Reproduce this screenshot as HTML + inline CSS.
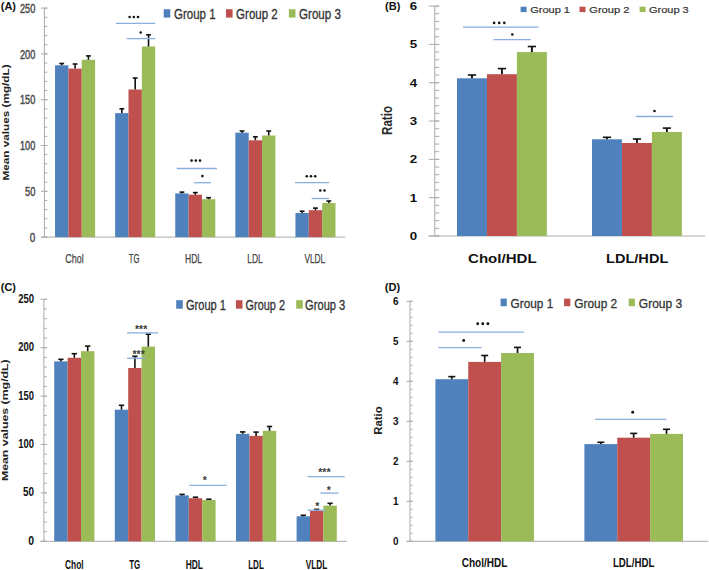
<!DOCTYPE html>
<html><head><meta charset="utf-8"><style>
html,body{margin:0;padding:0;background:#fff;}
svg{display:block;}
</style></head><body>
<svg width="709" height="570" viewBox="0 0 709 570">
<rect width="709" height="570" fill="#fff"/>
<line x1="44.40" y1="237.10" x2="47.40" y2="237.10" stroke="#ABABAB" stroke-width="1"/>
<line x1="44.40" y1="227.94" x2="47.40" y2="227.94" stroke="#ABABAB" stroke-width="1"/>
<line x1="44.40" y1="218.78" x2="47.40" y2="218.78" stroke="#ABABAB" stroke-width="1"/>
<line x1="44.40" y1="209.62" x2="47.40" y2="209.62" stroke="#ABABAB" stroke-width="1"/>
<line x1="44.40" y1="200.46" x2="47.40" y2="200.46" stroke="#ABABAB" stroke-width="1"/>
<line x1="44.40" y1="191.30" x2="47.40" y2="191.30" stroke="#ABABAB" stroke-width="1"/>
<line x1="44.40" y1="182.14" x2="47.40" y2="182.14" stroke="#ABABAB" stroke-width="1"/>
<line x1="44.40" y1="172.98" x2="47.40" y2="172.98" stroke="#ABABAB" stroke-width="1"/>
<line x1="44.40" y1="163.82" x2="47.40" y2="163.82" stroke="#ABABAB" stroke-width="1"/>
<line x1="44.40" y1="154.66" x2="47.40" y2="154.66" stroke="#ABABAB" stroke-width="1"/>
<line x1="44.40" y1="145.50" x2="47.40" y2="145.50" stroke="#ABABAB" stroke-width="1"/>
<line x1="44.40" y1="136.34" x2="47.40" y2="136.34" stroke="#ABABAB" stroke-width="1"/>
<line x1="44.40" y1="127.18" x2="47.40" y2="127.18" stroke="#ABABAB" stroke-width="1"/>
<line x1="44.40" y1="118.02" x2="47.40" y2="118.02" stroke="#ABABAB" stroke-width="1"/>
<line x1="44.40" y1="108.86" x2="47.40" y2="108.86" stroke="#ABABAB" stroke-width="1"/>
<line x1="44.40" y1="99.70" x2="47.40" y2="99.70" stroke="#ABABAB" stroke-width="1"/>
<line x1="44.40" y1="90.54" x2="47.40" y2="90.54" stroke="#ABABAB" stroke-width="1"/>
<line x1="44.40" y1="81.38" x2="47.40" y2="81.38" stroke="#ABABAB" stroke-width="1"/>
<line x1="44.40" y1="72.22" x2="47.40" y2="72.22" stroke="#ABABAB" stroke-width="1"/>
<line x1="44.40" y1="63.06" x2="47.40" y2="63.06" stroke="#ABABAB" stroke-width="1"/>
<line x1="44.40" y1="53.90" x2="47.40" y2="53.90" stroke="#ABABAB" stroke-width="1"/>
<line x1="44.40" y1="44.74" x2="47.40" y2="44.74" stroke="#ABABAB" stroke-width="1"/>
<line x1="44.40" y1="35.58" x2="47.40" y2="35.58" stroke="#ABABAB" stroke-width="1"/>
<line x1="44.40" y1="26.42" x2="47.40" y2="26.42" stroke="#ABABAB" stroke-width="1"/>
<line x1="44.40" y1="17.26" x2="47.40" y2="17.26" stroke="#ABABAB" stroke-width="1"/>
<line x1="44.40" y1="8.10" x2="47.40" y2="8.10" stroke="#ABABAB" stroke-width="1"/>
<line x1="41.00" y1="237.10" x2="47.40" y2="237.10" stroke="#ABABAB" stroke-width="1"/>
<line x1="41.00" y1="191.30" x2="47.40" y2="191.30" stroke="#ABABAB" stroke-width="1"/>
<line x1="41.00" y1="145.50" x2="47.40" y2="145.50" stroke="#ABABAB" stroke-width="1"/>
<line x1="41.00" y1="99.70" x2="47.40" y2="99.70" stroke="#ABABAB" stroke-width="1"/>
<line x1="41.00" y1="53.90" x2="47.40" y2="53.90" stroke="#ABABAB" stroke-width="1"/>
<line x1="41.00" y1="8.10" x2="47.40" y2="8.10" stroke="#ABABAB" stroke-width="1"/>
<line x1="44.40" y1="8.10" x2="44.40" y2="237.10" stroke="#ABABAB" stroke-width="1.0"/>
<line x1="41.00" y1="237.10" x2="345.30" y2="237.10" stroke="#ABABAB" stroke-width="1.0"/>
<text x="35.30" y="241.70" font-family="Liberation Sans" font-size="12.5" font-weight="normal" fill="#4a4a4a" text-anchor="end" textLength="5.50" lengthAdjust="spacingAndGlyphs" stroke="#4a4a4a" stroke-width="0.45">0</text>
<text x="35.30" y="195.90" font-family="Liberation Sans" font-size="12.5" font-weight="normal" fill="#4a4a4a" text-anchor="end" textLength="10.30" lengthAdjust="spacingAndGlyphs" stroke="#4a4a4a" stroke-width="0.45">50</text>
<text x="35.30" y="150.10" font-family="Liberation Sans" font-size="12.5" font-weight="normal" fill="#4a4a4a" text-anchor="end" textLength="15.30" lengthAdjust="spacingAndGlyphs" stroke="#4a4a4a" stroke-width="0.45">100</text>
<text x="35.30" y="104.30" font-family="Liberation Sans" font-size="12.5" font-weight="normal" fill="#4a4a4a" text-anchor="end" textLength="15.30" lengthAdjust="spacingAndGlyphs" stroke="#4a4a4a" stroke-width="0.45">150</text>
<text x="35.30" y="58.50" font-family="Liberation Sans" font-size="12.5" font-weight="normal" fill="#4a4a4a" text-anchor="end" textLength="15.30" lengthAdjust="spacingAndGlyphs" stroke="#4a4a4a" stroke-width="0.45">200</text>
<text x="35.30" y="12.70" font-family="Liberation Sans" font-size="12.5" font-weight="normal" fill="#4a4a4a" text-anchor="end" textLength="15.30" lengthAdjust="spacingAndGlyphs" stroke="#4a4a4a" stroke-width="0.45">250</text>
<text x="9.50" y="122.45" font-family="Liberation Sans" font-size="9.2" font-weight="bold" fill="#222" text-anchor="middle" textLength="116.00" lengthAdjust="spacingAndGlyphs" transform="rotate(-90 9.50 122.45)">Mean values (mg/dL)</text>
<text x="0.80" y="10.20" font-family="Liberation Sans" font-size="11" font-weight="bold" fill="#111" text-anchor="start" textLength="15.20" lengthAdjust="spacingAndGlyphs">(A)</text>
<rect x="55.05" y="65.30" width="13.35" height="171.80" fill="#4F81BD"/>
<rect x="68.40" y="68.60" width="13.35" height="168.50" fill="#C0504D"/>
<rect x="81.75" y="59.75" width="13.35" height="177.35" fill="#9BBB59"/>
<rect x="115.15" y="113.10" width="13.35" height="124.00" fill="#4F81BD"/>
<rect x="128.50" y="89.50" width="13.35" height="147.60" fill="#C0504D"/>
<rect x="141.85" y="46.50" width="13.35" height="190.60" fill="#9BBB59"/>
<rect x="175.25" y="193.40" width="13.35" height="43.70" fill="#4F81BD"/>
<rect x="188.60" y="194.70" width="13.35" height="42.40" fill="#C0504D"/>
<rect x="201.95" y="199.20" width="13.35" height="37.90" fill="#9BBB59"/>
<rect x="235.35" y="132.70" width="13.35" height="104.40" fill="#4F81BD"/>
<rect x="248.70" y="140.30" width="13.35" height="96.80" fill="#C0504D"/>
<rect x="262.05" y="135.50" width="13.35" height="101.60" fill="#9BBB59"/>
<rect x="295.45" y="213.00" width="13.35" height="24.10" fill="#4F81BD"/>
<rect x="308.80" y="210.20" width="13.35" height="26.90" fill="#C0504D"/>
<rect x="322.15" y="203.00" width="13.35" height="34.10" fill="#9BBB59"/>
<line x1="61.72" y1="65.30" x2="61.72" y2="63.50" stroke="#111" stroke-width="1.6"/>
<line x1="59.32" y1="63.50" x2="64.12" y2="63.50" stroke="#111" stroke-width="1.6"/>
<line x1="75.07" y1="68.60" x2="75.07" y2="64.00" stroke="#111" stroke-width="1.6"/>
<line x1="72.67" y1="64.00" x2="77.47" y2="64.00" stroke="#111" stroke-width="1.6"/>
<line x1="88.42" y1="59.75" x2="88.42" y2="55.90" stroke="#111" stroke-width="1.6"/>
<line x1="86.02" y1="55.90" x2="90.83" y2="55.90" stroke="#111" stroke-width="1.6"/>
<line x1="121.83" y1="113.10" x2="121.83" y2="108.80" stroke="#111" stroke-width="1.6"/>
<line x1="119.42" y1="108.80" x2="124.23" y2="108.80" stroke="#111" stroke-width="1.6"/>
<line x1="135.18" y1="89.50" x2="135.18" y2="78.00" stroke="#111" stroke-width="1.6"/>
<line x1="132.78" y1="78.00" x2="137.58" y2="78.00" stroke="#111" stroke-width="1.6"/>
<line x1="148.53" y1="46.50" x2="148.53" y2="34.80" stroke="#111" stroke-width="1.6"/>
<line x1="146.12" y1="34.80" x2="150.93" y2="34.80" stroke="#111" stroke-width="1.6"/>
<line x1="181.93" y1="193.40" x2="181.93" y2="192.10" stroke="#111" stroke-width="1.6"/>
<line x1="179.53" y1="192.10" x2="184.33" y2="192.10" stroke="#111" stroke-width="1.6"/>
<line x1="195.28" y1="194.70" x2="195.28" y2="192.60" stroke="#111" stroke-width="1.6"/>
<line x1="192.88" y1="192.60" x2="197.68" y2="192.60" stroke="#111" stroke-width="1.6"/>
<line x1="208.62" y1="199.20" x2="208.62" y2="197.70" stroke="#111" stroke-width="1.6"/>
<line x1="206.22" y1="197.70" x2="211.03" y2="197.70" stroke="#111" stroke-width="1.6"/>
<line x1="242.03" y1="132.70" x2="242.03" y2="131.00" stroke="#111" stroke-width="1.6"/>
<line x1="239.63" y1="131.00" x2="244.43" y2="131.00" stroke="#111" stroke-width="1.6"/>
<line x1="255.38" y1="140.30" x2="255.38" y2="136.80" stroke="#111" stroke-width="1.6"/>
<line x1="252.98" y1="136.80" x2="257.78" y2="136.80" stroke="#111" stroke-width="1.6"/>
<line x1="268.73" y1="135.50" x2="268.73" y2="131.00" stroke="#111" stroke-width="1.6"/>
<line x1="266.33" y1="131.00" x2="271.12" y2="131.00" stroke="#111" stroke-width="1.6"/>
<line x1="302.12" y1="213.00" x2="302.12" y2="211.20" stroke="#111" stroke-width="1.6"/>
<line x1="299.73" y1="211.20" x2="304.52" y2="211.20" stroke="#111" stroke-width="1.6"/>
<line x1="315.48" y1="210.20" x2="315.48" y2="208.10" stroke="#111" stroke-width="1.6"/>
<line x1="313.08" y1="208.10" x2="317.88" y2="208.10" stroke="#111" stroke-width="1.6"/>
<line x1="328.82" y1="203.00" x2="328.82" y2="201.00" stroke="#111" stroke-width="1.6"/>
<line x1="326.43" y1="201.00" x2="331.22" y2="201.00" stroke="#111" stroke-width="1.6"/>
<line x1="116.00" y1="23.40" x2="155.20" y2="23.40" stroke="#8AAEE0" stroke-width="1.3"/>
<circle cx="129.60" cy="17.00" r="1.3" fill="#111"/>
<circle cx="133.80" cy="17.00" r="1.3" fill="#111"/>
<circle cx="138.00" cy="17.00" r="1.3" fill="#111"/>
<line x1="126.70" y1="38.60" x2="155.20" y2="38.60" stroke="#8AAEE0" stroke-width="1.3"/>
<circle cx="140.70" cy="32.50" r="1.3" fill="#111"/>
<line x1="176.70" y1="168.50" x2="216.90" y2="168.50" stroke="#8AAEE0" stroke-width="1.3"/>
<circle cx="191.60" cy="160.60" r="1.3" fill="#111"/>
<circle cx="195.80" cy="160.60" r="1.3" fill="#111"/>
<circle cx="200.00" cy="160.60" r="1.3" fill="#111"/>
<line x1="194.00" y1="182.70" x2="211.00" y2="182.70" stroke="#8AAEE0" stroke-width="1.3"/>
<circle cx="202.40" cy="176.10" r="1.3" fill="#111"/>
<line x1="295.00" y1="182.70" x2="329.20" y2="182.70" stroke="#8AAEE0" stroke-width="1.3"/>
<circle cx="306.80" cy="176.30" r="1.3" fill="#111"/>
<circle cx="311.00" cy="176.30" r="1.3" fill="#111"/>
<circle cx="315.20" cy="176.30" r="1.3" fill="#111"/>
<line x1="311.70" y1="198.50" x2="329.20" y2="198.50" stroke="#8AAEE0" stroke-width="1.3"/>
<circle cx="320.30" cy="190.50" r="1.3" fill="#111"/>
<circle cx="324.50" cy="190.50" r="1.3" fill="#111"/>
<rect x="163.70" y="9.20" width="6.60" height="8.40" fill="#4F81BD"/>
<text x="174.00" y="19.00" font-family="Liberation Sans" font-size="14" font-weight="normal" fill="#333" text-anchor="start" textLength="41.60" lengthAdjust="spacingAndGlyphs" stroke="#333" stroke-width="0.3">Group 1</text>
<rect x="226.00" y="9.20" width="6.60" height="8.40" fill="#C0504D"/>
<text x="236.10" y="19.00" font-family="Liberation Sans" font-size="14" font-weight="normal" fill="#333" text-anchor="start" textLength="41.70" lengthAdjust="spacingAndGlyphs" stroke="#333" stroke-width="0.3">Group 2</text>
<rect x="288.90" y="9.20" width="6.60" height="8.40" fill="#9BBB59"/>
<text x="299.00" y="19.00" font-family="Liberation Sans" font-size="14" font-weight="normal" fill="#333" text-anchor="start" textLength="42.00" lengthAdjust="spacingAndGlyphs" stroke="#333" stroke-width="0.3">Group 3</text>
<text x="74.50" y="262.90" font-family="Liberation Sans" font-size="12.8" font-weight="normal" fill="#444" text-anchor="middle" textLength="18.30" lengthAdjust="spacingAndGlyphs" stroke="#444" stroke-width="0.25">Chol</text>
<text x="134.20" y="262.90" font-family="Liberation Sans" font-size="12.8" font-weight="normal" fill="#444" text-anchor="middle" textLength="10.70" lengthAdjust="spacingAndGlyphs" stroke="#444" stroke-width="0.25">TG</text>
<text x="193.50" y="262.90" font-family="Liberation Sans" font-size="12.8" font-weight="normal" fill="#444" text-anchor="middle" textLength="17.00" lengthAdjust="spacingAndGlyphs" stroke="#444" stroke-width="0.25">HDL</text>
<text x="255.00" y="262.90" font-family="Liberation Sans" font-size="12.8" font-weight="normal" fill="#444" text-anchor="middle" textLength="15.30" lengthAdjust="spacingAndGlyphs" stroke="#444" stroke-width="0.25">LDL</text>
<text x="314.80" y="262.90" font-family="Liberation Sans" font-size="12.8" font-weight="normal" fill="#444" text-anchor="middle" textLength="20.80" lengthAdjust="spacingAndGlyphs" stroke="#444" stroke-width="0.25">VLDL</text>
<line x1="434.80" y1="236.00" x2="439.20" y2="236.00" stroke="#ABABAB" stroke-width="1"/>
<line x1="434.80" y1="228.34" x2="439.20" y2="228.34" stroke="#ABABAB" stroke-width="1"/>
<line x1="434.80" y1="220.67" x2="439.20" y2="220.67" stroke="#ABABAB" stroke-width="1"/>
<line x1="434.80" y1="213.01" x2="439.20" y2="213.01" stroke="#ABABAB" stroke-width="1"/>
<line x1="434.80" y1="205.35" x2="439.20" y2="205.35" stroke="#ABABAB" stroke-width="1"/>
<line x1="434.80" y1="197.68" x2="439.20" y2="197.68" stroke="#ABABAB" stroke-width="1"/>
<line x1="434.80" y1="190.02" x2="439.20" y2="190.02" stroke="#ABABAB" stroke-width="1"/>
<line x1="434.80" y1="182.36" x2="439.20" y2="182.36" stroke="#ABABAB" stroke-width="1"/>
<line x1="434.80" y1="174.69" x2="439.20" y2="174.69" stroke="#ABABAB" stroke-width="1"/>
<line x1="434.80" y1="167.03" x2="439.20" y2="167.03" stroke="#ABABAB" stroke-width="1"/>
<line x1="434.80" y1="159.37" x2="439.20" y2="159.37" stroke="#ABABAB" stroke-width="1"/>
<line x1="434.80" y1="151.70" x2="439.20" y2="151.70" stroke="#ABABAB" stroke-width="1"/>
<line x1="434.80" y1="144.04" x2="439.20" y2="144.04" stroke="#ABABAB" stroke-width="1"/>
<line x1="434.80" y1="136.38" x2="439.20" y2="136.38" stroke="#ABABAB" stroke-width="1"/>
<line x1="434.80" y1="128.71" x2="439.20" y2="128.71" stroke="#ABABAB" stroke-width="1"/>
<line x1="434.80" y1="121.05" x2="439.20" y2="121.05" stroke="#ABABAB" stroke-width="1"/>
<line x1="434.80" y1="113.39" x2="439.20" y2="113.39" stroke="#ABABAB" stroke-width="1"/>
<line x1="434.80" y1="105.72" x2="439.20" y2="105.72" stroke="#ABABAB" stroke-width="1"/>
<line x1="434.80" y1="98.06" x2="439.20" y2="98.06" stroke="#ABABAB" stroke-width="1"/>
<line x1="434.80" y1="90.40" x2="439.20" y2="90.40" stroke="#ABABAB" stroke-width="1"/>
<line x1="434.80" y1="82.73" x2="439.20" y2="82.73" stroke="#ABABAB" stroke-width="1"/>
<line x1="434.80" y1="75.07" x2="439.20" y2="75.07" stroke="#ABABAB" stroke-width="1"/>
<line x1="434.80" y1="67.41" x2="439.20" y2="67.41" stroke="#ABABAB" stroke-width="1"/>
<line x1="434.80" y1="59.74" x2="439.20" y2="59.74" stroke="#ABABAB" stroke-width="1"/>
<line x1="434.80" y1="52.08" x2="439.20" y2="52.08" stroke="#ABABAB" stroke-width="1"/>
<line x1="434.80" y1="44.42" x2="439.20" y2="44.42" stroke="#ABABAB" stroke-width="1"/>
<line x1="434.80" y1="36.75" x2="439.20" y2="36.75" stroke="#ABABAB" stroke-width="1"/>
<line x1="434.80" y1="29.09" x2="439.20" y2="29.09" stroke="#ABABAB" stroke-width="1"/>
<line x1="434.80" y1="21.43" x2="439.20" y2="21.43" stroke="#ABABAB" stroke-width="1"/>
<line x1="434.80" y1="13.76" x2="439.20" y2="13.76" stroke="#ABABAB" stroke-width="1"/>
<line x1="434.80" y1="6.10" x2="439.20" y2="6.10" stroke="#ABABAB" stroke-width="1"/>
<line x1="428.80" y1="236.00" x2="439.20" y2="236.00" stroke="#ABABAB" stroke-width="1"/>
<line x1="428.80" y1="197.68" x2="439.20" y2="197.68" stroke="#ABABAB" stroke-width="1"/>
<line x1="428.80" y1="159.37" x2="439.20" y2="159.37" stroke="#ABABAB" stroke-width="1"/>
<line x1="428.80" y1="121.05" x2="439.20" y2="121.05" stroke="#ABABAB" stroke-width="1"/>
<line x1="428.80" y1="82.73" x2="439.20" y2="82.73" stroke="#ABABAB" stroke-width="1"/>
<line x1="428.80" y1="44.42" x2="439.20" y2="44.42" stroke="#ABABAB" stroke-width="1"/>
<line x1="428.80" y1="6.10" x2="439.20" y2="6.10" stroke="#ABABAB" stroke-width="1"/>
<line x1="434.80" y1="6.10" x2="434.80" y2="236.00" stroke="#ABABAB" stroke-width="1.0"/>
<line x1="428.70" y1="236.00" x2="705.00" y2="236.00" stroke="#ABABAB" stroke-width="1.0"/>
<text x="413.40" y="239.90" font-family="Liberation Sans" font-size="10.8" font-weight="bold" fill="#111" text-anchor="middle" textLength="7.40" lengthAdjust="spacingAndGlyphs">0</text>
<text x="413.40" y="201.58" font-family="Liberation Sans" font-size="10.8" font-weight="bold" fill="#111" text-anchor="middle" textLength="7.40" lengthAdjust="spacingAndGlyphs">1</text>
<text x="413.40" y="163.27" font-family="Liberation Sans" font-size="10.8" font-weight="bold" fill="#111" text-anchor="middle" textLength="7.40" lengthAdjust="spacingAndGlyphs">2</text>
<text x="413.40" y="124.95" font-family="Liberation Sans" font-size="10.8" font-weight="bold" fill="#111" text-anchor="middle" textLength="7.40" lengthAdjust="spacingAndGlyphs">3</text>
<text x="413.40" y="86.63" font-family="Liberation Sans" font-size="10.8" font-weight="bold" fill="#111" text-anchor="middle" textLength="7.40" lengthAdjust="spacingAndGlyphs">4</text>
<text x="413.40" y="48.32" font-family="Liberation Sans" font-size="10.8" font-weight="bold" fill="#111" text-anchor="middle" textLength="7.40" lengthAdjust="spacingAndGlyphs">5</text>
<text x="413.40" y="10.00" font-family="Liberation Sans" font-size="10.8" font-weight="bold" fill="#111" text-anchor="middle" textLength="7.40" lengthAdjust="spacingAndGlyphs">6</text>
<text x="391.80" y="120.45" font-family="Liberation Sans" font-size="14.2" font-weight="bold" fill="#2a2a2a" text-anchor="middle" textLength="28.90" lengthAdjust="spacingAndGlyphs" transform="rotate(-90 391.80 120.45)">Ratio</text>
<text x="385.00" y="10.40" font-family="Liberation Sans" font-size="10.5" font-weight="bold" fill="#111" text-anchor="start" textLength="15.30" lengthAdjust="spacingAndGlyphs">(B)</text>
<rect x="457.00" y="78.30" width="29.95" height="157.70" fill="#4F81BD"/>
<rect x="486.95" y="74.20" width="29.95" height="161.80" fill="#C0504D"/>
<rect x="516.90" y="52.10" width="29.95" height="183.90" fill="#9BBB59"/>
<rect x="592.00" y="139.30" width="29.95" height="96.70" fill="#4F81BD"/>
<rect x="621.95" y="143.00" width="29.95" height="93.00" fill="#C0504D"/>
<rect x="651.90" y="132.00" width="29.95" height="104.00" fill="#9BBB59"/>
<line x1="471.98" y1="78.30" x2="471.98" y2="75.00" stroke="#111" stroke-width="1.9"/>
<line x1="467.88" y1="75.00" x2="476.08" y2="75.00" stroke="#111" stroke-width="1.6"/>
<line x1="501.93" y1="74.20" x2="501.93" y2="68.60" stroke="#111" stroke-width="1.9"/>
<line x1="497.82" y1="68.60" x2="506.03" y2="68.60" stroke="#111" stroke-width="1.6"/>
<line x1="531.88" y1="52.10" x2="531.88" y2="46.50" stroke="#111" stroke-width="1.9"/>
<line x1="527.77" y1="46.50" x2="535.98" y2="46.50" stroke="#111" stroke-width="1.6"/>
<line x1="606.98" y1="139.30" x2="606.98" y2="137.30" stroke="#111" stroke-width="1.9"/>
<line x1="602.88" y1="137.30" x2="611.08" y2="137.30" stroke="#111" stroke-width="1.6"/>
<line x1="636.93" y1="143.00" x2="636.93" y2="139.00" stroke="#111" stroke-width="1.9"/>
<line x1="632.83" y1="139.00" x2="641.03" y2="139.00" stroke="#111" stroke-width="1.6"/>
<line x1="666.88" y1="132.00" x2="666.88" y2="128.10" stroke="#111" stroke-width="1.9"/>
<line x1="662.77" y1="128.10" x2="670.98" y2="128.10" stroke="#111" stroke-width="1.6"/>
<line x1="463.00" y1="27.20" x2="538.40" y2="27.20" stroke="#8AAEE0" stroke-width="1.3"/>
<circle cx="494.10" cy="22.90" r="1.3" fill="#111"/>
<circle cx="499.20" cy="22.90" r="1.3" fill="#111"/>
<circle cx="504.30" cy="22.90" r="1.3" fill="#111"/>
<line x1="493.50" y1="39.60" x2="530.80" y2="39.60" stroke="#8AAEE0" stroke-width="1.3"/>
<circle cx="512.30" cy="34.50" r="1.3" fill="#111"/>
<line x1="635.80" y1="116.50" x2="673.10" y2="116.50" stroke="#8AAEE0" stroke-width="1.3"/>
<circle cx="654.50" cy="111.00" r="1.3" fill="#111"/>
<rect x="520.60" y="6.70" width="6.00" height="5.40" fill="#4F81BD"/>
<text x="530.20" y="12.60" font-family="Liberation Sans" font-size="9.5" font-weight="normal" fill="#333" text-anchor="start" textLength="39.80" lengthAdjust="spacingAndGlyphs" stroke="#333" stroke-width="0.2">Group 1</text>
<rect x="579.50" y="6.70" width="6.00" height="5.40" fill="#C0504D"/>
<text x="589.30" y="12.60" font-family="Liberation Sans" font-size="9.5" font-weight="normal" fill="#333" text-anchor="start" textLength="40.10" lengthAdjust="spacingAndGlyphs" stroke="#333" stroke-width="0.2">Group 2</text>
<rect x="639.60" y="6.70" width="6.00" height="5.40" fill="#9BBB59"/>
<text x="649.00" y="12.60" font-family="Liberation Sans" font-size="9.5" font-weight="normal" fill="#333" text-anchor="start" textLength="39.70" lengthAdjust="spacingAndGlyphs" stroke="#333" stroke-width="0.2">Group 3</text>
<text x="502.35" y="262.90" font-family="Liberation Sans" font-size="12.5" font-weight="bold" fill="#111" text-anchor="middle" textLength="68.70" lengthAdjust="spacingAndGlyphs">Chol/HDL</text>
<text x="637.15" y="262.90" font-family="Liberation Sans" font-size="12.5" font-weight="bold" fill="#111" text-anchor="middle" textLength="62.30" lengthAdjust="spacingAndGlyphs">LDL/HDL</text>
<line x1="43.90" y1="541.30" x2="46.80" y2="541.30" stroke="#ABABAB" stroke-width="1"/>
<line x1="43.90" y1="531.62" x2="46.80" y2="531.62" stroke="#ABABAB" stroke-width="1"/>
<line x1="43.90" y1="521.94" x2="46.80" y2="521.94" stroke="#ABABAB" stroke-width="1"/>
<line x1="43.90" y1="512.26" x2="46.80" y2="512.26" stroke="#ABABAB" stroke-width="1"/>
<line x1="43.90" y1="502.58" x2="46.80" y2="502.58" stroke="#ABABAB" stroke-width="1"/>
<line x1="43.90" y1="492.90" x2="46.80" y2="492.90" stroke="#ABABAB" stroke-width="1"/>
<line x1="43.90" y1="483.22" x2="46.80" y2="483.22" stroke="#ABABAB" stroke-width="1"/>
<line x1="43.90" y1="473.54" x2="46.80" y2="473.54" stroke="#ABABAB" stroke-width="1"/>
<line x1="43.90" y1="463.86" x2="46.80" y2="463.86" stroke="#ABABAB" stroke-width="1"/>
<line x1="43.90" y1="454.18" x2="46.80" y2="454.18" stroke="#ABABAB" stroke-width="1"/>
<line x1="43.90" y1="444.50" x2="46.80" y2="444.50" stroke="#ABABAB" stroke-width="1"/>
<line x1="43.90" y1="434.82" x2="46.80" y2="434.82" stroke="#ABABAB" stroke-width="1"/>
<line x1="43.90" y1="425.14" x2="46.80" y2="425.14" stroke="#ABABAB" stroke-width="1"/>
<line x1="43.90" y1="415.46" x2="46.80" y2="415.46" stroke="#ABABAB" stroke-width="1"/>
<line x1="43.90" y1="405.78" x2="46.80" y2="405.78" stroke="#ABABAB" stroke-width="1"/>
<line x1="43.90" y1="396.10" x2="46.80" y2="396.10" stroke="#ABABAB" stroke-width="1"/>
<line x1="43.90" y1="386.42" x2="46.80" y2="386.42" stroke="#ABABAB" stroke-width="1"/>
<line x1="43.90" y1="376.74" x2="46.80" y2="376.74" stroke="#ABABAB" stroke-width="1"/>
<line x1="43.90" y1="367.06" x2="46.80" y2="367.06" stroke="#ABABAB" stroke-width="1"/>
<line x1="43.90" y1="357.38" x2="46.80" y2="357.38" stroke="#ABABAB" stroke-width="1"/>
<line x1="43.90" y1="347.70" x2="46.80" y2="347.70" stroke="#ABABAB" stroke-width="1"/>
<line x1="43.90" y1="338.02" x2="46.80" y2="338.02" stroke="#ABABAB" stroke-width="1"/>
<line x1="43.90" y1="328.34" x2="46.80" y2="328.34" stroke="#ABABAB" stroke-width="1"/>
<line x1="43.90" y1="318.66" x2="46.80" y2="318.66" stroke="#ABABAB" stroke-width="1"/>
<line x1="43.90" y1="308.98" x2="46.80" y2="308.98" stroke="#ABABAB" stroke-width="1"/>
<line x1="43.90" y1="299.30" x2="46.80" y2="299.30" stroke="#ABABAB" stroke-width="1"/>
<line x1="40.50" y1="541.30" x2="46.80" y2="541.30" stroke="#ABABAB" stroke-width="1"/>
<line x1="40.50" y1="492.90" x2="46.80" y2="492.90" stroke="#ABABAB" stroke-width="1"/>
<line x1="40.50" y1="444.50" x2="46.80" y2="444.50" stroke="#ABABAB" stroke-width="1"/>
<line x1="40.50" y1="396.10" x2="46.80" y2="396.10" stroke="#ABABAB" stroke-width="1"/>
<line x1="40.50" y1="347.70" x2="46.80" y2="347.70" stroke="#ABABAB" stroke-width="1"/>
<line x1="40.50" y1="299.30" x2="46.80" y2="299.30" stroke="#ABABAB" stroke-width="1"/>
<line x1="43.90" y1="299.30" x2="43.90" y2="541.30" stroke="#ABABAB" stroke-width="1.0"/>
<line x1="40.50" y1="541.30" x2="347.00" y2="541.30" stroke="#ABABAB" stroke-width="1.0"/>
<text x="34.00" y="544.70" font-family="Liberation Sans" font-size="12" font-weight="bold" fill="#111" text-anchor="end" textLength="5.80" lengthAdjust="spacingAndGlyphs">0</text>
<text x="34.00" y="496.30" font-family="Liberation Sans" font-size="12" font-weight="bold" fill="#111" text-anchor="end" textLength="11.00" lengthAdjust="spacingAndGlyphs">50</text>
<text x="34.00" y="447.90" font-family="Liberation Sans" font-size="12" font-weight="bold" fill="#111" text-anchor="end" textLength="15.80" lengthAdjust="spacingAndGlyphs">100</text>
<text x="34.00" y="399.50" font-family="Liberation Sans" font-size="12" font-weight="bold" fill="#111" text-anchor="end" textLength="15.80" lengthAdjust="spacingAndGlyphs">150</text>
<text x="34.00" y="351.10" font-family="Liberation Sans" font-size="12" font-weight="bold" fill="#111" text-anchor="end" textLength="15.80" lengthAdjust="spacingAndGlyphs">200</text>
<text x="34.00" y="302.70" font-family="Liberation Sans" font-size="12" font-weight="bold" fill="#111" text-anchor="end" textLength="15.80" lengthAdjust="spacingAndGlyphs">250</text>
<text x="8.20" y="420.20" font-family="Liberation Sans" font-size="9.2" font-weight="bold" fill="#222" text-anchor="middle" textLength="121.80" lengthAdjust="spacingAndGlyphs" transform="rotate(-90 8.20 420.20)">Mean values (mg/dL)</text>
<text x="0.85" y="290.60" font-family="Liberation Sans" font-size="11.7" font-weight="bold" fill="#111" text-anchor="start" textLength="15.00" lengthAdjust="spacingAndGlyphs">(C)</text>
<rect x="54.20" y="361.40" width="13.40" height="179.90" fill="#4F81BD"/>
<rect x="67.60" y="357.80" width="13.40" height="183.50" fill="#C0504D"/>
<rect x="81.00" y="351.20" width="13.40" height="190.10" fill="#9BBB59"/>
<rect x="114.80" y="409.70" width="13.40" height="131.60" fill="#4F81BD"/>
<rect x="128.20" y="368.00" width="13.40" height="173.30" fill="#C0504D"/>
<rect x="141.60" y="346.60" width="13.40" height="194.70" fill="#9BBB59"/>
<rect x="175.40" y="495.40" width="13.40" height="45.90" fill="#4F81BD"/>
<rect x="188.80" y="498.20" width="13.40" height="43.10" fill="#C0504D"/>
<rect x="202.20" y="500.00" width="13.40" height="41.30" fill="#9BBB59"/>
<rect x="236.00" y="433.90" width="13.40" height="107.40" fill="#4F81BD"/>
<rect x="249.40" y="435.90" width="13.40" height="105.40" fill="#C0504D"/>
<rect x="262.80" y="430.80" width="13.40" height="110.50" fill="#9BBB59"/>
<rect x="296.60" y="516.30" width="13.40" height="25.00" fill="#4F81BD"/>
<rect x="310.00" y="510.90" width="13.40" height="30.40" fill="#C0504D"/>
<rect x="323.40" y="505.60" width="13.40" height="35.70" fill="#9BBB59"/>
<line x1="60.90" y1="361.40" x2="60.90" y2="359.30" stroke="#111" stroke-width="1.6"/>
<line x1="58.25" y1="359.30" x2="63.55" y2="359.30" stroke="#111" stroke-width="1.6"/>
<line x1="74.30" y1="357.80" x2="74.30" y2="353.70" stroke="#111" stroke-width="1.6"/>
<line x1="71.65" y1="353.70" x2="76.95" y2="353.70" stroke="#111" stroke-width="1.6"/>
<line x1="87.70" y1="351.20" x2="87.70" y2="346.10" stroke="#111" stroke-width="1.6"/>
<line x1="85.05" y1="346.10" x2="90.35" y2="346.10" stroke="#111" stroke-width="1.6"/>
<line x1="121.50" y1="409.70" x2="121.50" y2="405.30" stroke="#111" stroke-width="1.6"/>
<line x1="118.85" y1="405.30" x2="124.15" y2="405.30" stroke="#111" stroke-width="1.6"/>
<line x1="134.90" y1="368.00" x2="134.90" y2="356.30" stroke="#111" stroke-width="1.6"/>
<line x1="132.25" y1="356.30" x2="137.55" y2="356.30" stroke="#111" stroke-width="1.6"/>
<line x1="148.30" y1="346.60" x2="148.30" y2="334.20" stroke="#111" stroke-width="1.6"/>
<line x1="145.65" y1="334.20" x2="150.95" y2="334.20" stroke="#111" stroke-width="1.6"/>
<line x1="182.10" y1="495.40" x2="182.10" y2="494.40" stroke="#111" stroke-width="1.6"/>
<line x1="179.45" y1="494.40" x2="184.75" y2="494.40" stroke="#111" stroke-width="1.6"/>
<line x1="195.50" y1="498.20" x2="195.50" y2="497.20" stroke="#111" stroke-width="1.6"/>
<line x1="192.85" y1="497.20" x2="198.15" y2="497.20" stroke="#111" stroke-width="1.6"/>
<line x1="208.90" y1="500.00" x2="208.90" y2="499.20" stroke="#111" stroke-width="1.6"/>
<line x1="206.25" y1="499.20" x2="211.55" y2="499.20" stroke="#111" stroke-width="1.6"/>
<line x1="242.70" y1="433.90" x2="242.70" y2="431.90" stroke="#111" stroke-width="1.6"/>
<line x1="240.05" y1="431.90" x2="245.35" y2="431.90" stroke="#111" stroke-width="1.6"/>
<line x1="256.10" y1="435.90" x2="256.10" y2="432.10" stroke="#111" stroke-width="1.6"/>
<line x1="253.45" y1="432.10" x2="258.75" y2="432.10" stroke="#111" stroke-width="1.6"/>
<line x1="269.50" y1="430.80" x2="269.50" y2="426.50" stroke="#111" stroke-width="1.6"/>
<line x1="266.85" y1="426.50" x2="272.15" y2="426.50" stroke="#111" stroke-width="1.6"/>
<line x1="303.30" y1="516.30" x2="303.30" y2="515.30" stroke="#111" stroke-width="1.6"/>
<line x1="300.65" y1="515.30" x2="305.95" y2="515.30" stroke="#111" stroke-width="1.6"/>
<line x1="316.70" y1="510.90" x2="316.70" y2="509.40" stroke="#111" stroke-width="1.6"/>
<line x1="314.05" y1="509.40" x2="319.35" y2="509.40" stroke="#111" stroke-width="1.6"/>
<line x1="330.10" y1="505.60" x2="330.10" y2="503.30" stroke="#111" stroke-width="1.6"/>
<line x1="327.45" y1="503.30" x2="332.75" y2="503.30" stroke="#111" stroke-width="1.6"/>
<line x1="127.10" y1="332.90" x2="158.10" y2="332.90" stroke="#8AAEE0" stroke-width="1.3"/>
<text x="141.10" y="332.80" font-family="Liberation Sans" font-size="10.5" font-weight="bold" fill="#3a3a3a" text-anchor="middle">***</text>
<line x1="127.10" y1="358.30" x2="145.40" y2="358.30" stroke="#8AAEE0" stroke-width="1.3"/>
<text x="138.60" y="357.80" font-family="Liberation Sans" font-size="10.5" font-weight="bold" fill="#3a3a3a" text-anchor="middle">***</text>
<line x1="189.40" y1="485.30" x2="226.50" y2="485.30" stroke="#8AAEE0" stroke-width="1.3"/>
<text x="204.90" y="484.20" font-family="Liberation Sans" font-size="10.5" font-weight="bold" fill="#3a3a3a" text-anchor="middle">*</text>
<line x1="307.60" y1="476.60" x2="344.80" y2="476.60" stroke="#8AAEE0" stroke-width="1.3"/>
<text x="324.40" y="476.20" font-family="Liberation Sans" font-size="10.5" font-weight="bold" fill="#3a3a3a" text-anchor="middle">***</text>
<line x1="320.40" y1="493.10" x2="338.40" y2="493.10" stroke="#8AAEE0" stroke-width="1.3"/>
<text x="328.70" y="493.90" font-family="Liberation Sans" font-size="10.5" font-weight="bold" fill="#3a3a3a" text-anchor="middle">*</text>
<line x1="307.60" y1="510.20" x2="325.40" y2="510.20" stroke="#8AAEE0" stroke-width="1.3"/>
<text x="317.30" y="509.50" font-family="Liberation Sans" font-size="10.5" font-weight="bold" fill="#3a3a3a" text-anchor="middle">*</text>
<rect x="176.20" y="300.20" width="6.60" height="8.50" fill="#4F81BD"/>
<text x="186.00" y="309.90" font-family="Liberation Sans" font-size="14" font-weight="normal" fill="#333" text-anchor="start" textLength="40.00" lengthAdjust="spacingAndGlyphs" stroke="#333" stroke-width="0.3">Group 1</text>
<rect x="235.90" y="300.20" width="6.60" height="8.50" fill="#C0504D"/>
<text x="245.60" y="309.90" font-family="Liberation Sans" font-size="14" font-weight="normal" fill="#333" text-anchor="start" textLength="39.40" lengthAdjust="spacingAndGlyphs" stroke="#333" stroke-width="0.3">Group 2</text>
<rect x="296.20" y="300.20" width="6.60" height="8.50" fill="#9BBB59"/>
<text x="305.10" y="309.90" font-family="Liberation Sans" font-size="14" font-weight="normal" fill="#333" text-anchor="start" textLength="40.20" lengthAdjust="spacingAndGlyphs" stroke="#333" stroke-width="0.3">Group 3</text>
<text x="74.35" y="569.20" font-family="Liberation Sans" font-size="12.5" font-weight="bold" fill="#111" text-anchor="middle" textLength="18.70" lengthAdjust="spacingAndGlyphs">Chol</text>
<text x="134.70" y="569.20" font-family="Liberation Sans" font-size="12.5" font-weight="bold" fill="#111" text-anchor="middle" textLength="11.00" lengthAdjust="spacingAndGlyphs">TG</text>
<text x="194.35" y="569.20" font-family="Liberation Sans" font-size="12.5" font-weight="bold" fill="#111" text-anchor="middle" textLength="17.30" lengthAdjust="spacingAndGlyphs">HDL</text>
<text x="256.05" y="569.20" font-family="Liberation Sans" font-size="12.5" font-weight="bold" fill="#111" text-anchor="middle" textLength="15.70" lengthAdjust="spacingAndGlyphs">LDL</text>
<text x="316.60" y="569.20" font-family="Liberation Sans" font-size="12.5" font-weight="bold" fill="#111" text-anchor="middle" textLength="21.60" lengthAdjust="spacingAndGlyphs">VLDL</text>
<line x1="410.00" y1="541.30" x2="412.60" y2="541.30" stroke="#ABABAB" stroke-width="1"/>
<line x1="410.00" y1="533.30" x2="412.60" y2="533.30" stroke="#ABABAB" stroke-width="1"/>
<line x1="410.00" y1="525.30" x2="412.60" y2="525.30" stroke="#ABABAB" stroke-width="1"/>
<line x1="410.00" y1="517.30" x2="412.60" y2="517.30" stroke="#ABABAB" stroke-width="1"/>
<line x1="410.00" y1="509.30" x2="412.60" y2="509.30" stroke="#ABABAB" stroke-width="1"/>
<line x1="410.00" y1="501.30" x2="412.60" y2="501.30" stroke="#ABABAB" stroke-width="1"/>
<line x1="410.00" y1="493.30" x2="412.60" y2="493.30" stroke="#ABABAB" stroke-width="1"/>
<line x1="410.00" y1="485.30" x2="412.60" y2="485.30" stroke="#ABABAB" stroke-width="1"/>
<line x1="410.00" y1="477.30" x2="412.60" y2="477.30" stroke="#ABABAB" stroke-width="1"/>
<line x1="410.00" y1="469.30" x2="412.60" y2="469.30" stroke="#ABABAB" stroke-width="1"/>
<line x1="410.00" y1="461.30" x2="412.60" y2="461.30" stroke="#ABABAB" stroke-width="1"/>
<line x1="410.00" y1="453.30" x2="412.60" y2="453.30" stroke="#ABABAB" stroke-width="1"/>
<line x1="410.00" y1="445.30" x2="412.60" y2="445.30" stroke="#ABABAB" stroke-width="1"/>
<line x1="410.00" y1="437.30" x2="412.60" y2="437.30" stroke="#ABABAB" stroke-width="1"/>
<line x1="410.00" y1="429.30" x2="412.60" y2="429.30" stroke="#ABABAB" stroke-width="1"/>
<line x1="410.00" y1="421.30" x2="412.60" y2="421.30" stroke="#ABABAB" stroke-width="1"/>
<line x1="410.00" y1="413.30" x2="412.60" y2="413.30" stroke="#ABABAB" stroke-width="1"/>
<line x1="410.00" y1="405.30" x2="412.60" y2="405.30" stroke="#ABABAB" stroke-width="1"/>
<line x1="410.00" y1="397.30" x2="412.60" y2="397.30" stroke="#ABABAB" stroke-width="1"/>
<line x1="410.00" y1="389.30" x2="412.60" y2="389.30" stroke="#ABABAB" stroke-width="1"/>
<line x1="410.00" y1="381.30" x2="412.60" y2="381.30" stroke="#ABABAB" stroke-width="1"/>
<line x1="410.00" y1="373.30" x2="412.60" y2="373.30" stroke="#ABABAB" stroke-width="1"/>
<line x1="410.00" y1="365.30" x2="412.60" y2="365.30" stroke="#ABABAB" stroke-width="1"/>
<line x1="410.00" y1="357.30" x2="412.60" y2="357.30" stroke="#ABABAB" stroke-width="1"/>
<line x1="410.00" y1="349.30" x2="412.60" y2="349.30" stroke="#ABABAB" stroke-width="1"/>
<line x1="410.00" y1="341.30" x2="412.60" y2="341.30" stroke="#ABABAB" stroke-width="1"/>
<line x1="410.00" y1="333.30" x2="412.60" y2="333.30" stroke="#ABABAB" stroke-width="1"/>
<line x1="410.00" y1="325.30" x2="412.60" y2="325.30" stroke="#ABABAB" stroke-width="1"/>
<line x1="410.00" y1="317.30" x2="412.60" y2="317.30" stroke="#ABABAB" stroke-width="1"/>
<line x1="410.00" y1="309.30" x2="412.60" y2="309.30" stroke="#ABABAB" stroke-width="1"/>
<line x1="410.00" y1="301.30" x2="412.60" y2="301.30" stroke="#ABABAB" stroke-width="1"/>
<line x1="406.50" y1="541.30" x2="412.60" y2="541.30" stroke="#ABABAB" stroke-width="1"/>
<line x1="406.50" y1="501.30" x2="412.60" y2="501.30" stroke="#ABABAB" stroke-width="1"/>
<line x1="406.50" y1="461.30" x2="412.60" y2="461.30" stroke="#ABABAB" stroke-width="1"/>
<line x1="406.50" y1="421.30" x2="412.60" y2="421.30" stroke="#ABABAB" stroke-width="1"/>
<line x1="406.50" y1="381.30" x2="412.60" y2="381.30" stroke="#ABABAB" stroke-width="1"/>
<line x1="406.50" y1="341.30" x2="412.60" y2="341.30" stroke="#ABABAB" stroke-width="1"/>
<line x1="406.50" y1="301.30" x2="412.60" y2="301.30" stroke="#ABABAB" stroke-width="1"/>
<line x1="410.00" y1="301.10" x2="410.00" y2="541.30" stroke="#ABABAB" stroke-width="1.0"/>
<line x1="406.50" y1="541.30" x2="708.30" y2="541.30" stroke="#ABABAB" stroke-width="1.0"/>
<text x="395.70" y="544.70" font-family="Liberation Sans" font-size="11.5" font-weight="bold" fill="#111" text-anchor="middle" textLength="5.50" lengthAdjust="spacingAndGlyphs">0</text>
<text x="395.70" y="504.70" font-family="Liberation Sans" font-size="11.5" font-weight="bold" fill="#111" text-anchor="middle" textLength="5.50" lengthAdjust="spacingAndGlyphs">1</text>
<text x="395.70" y="464.70" font-family="Liberation Sans" font-size="11.5" font-weight="bold" fill="#111" text-anchor="middle" textLength="5.50" lengthAdjust="spacingAndGlyphs">2</text>
<text x="395.70" y="424.70" font-family="Liberation Sans" font-size="11.5" font-weight="bold" fill="#111" text-anchor="middle" textLength="5.50" lengthAdjust="spacingAndGlyphs">3</text>
<text x="395.70" y="384.70" font-family="Liberation Sans" font-size="11.5" font-weight="bold" fill="#111" text-anchor="middle" textLength="5.50" lengthAdjust="spacingAndGlyphs">4</text>
<text x="395.70" y="344.70" font-family="Liberation Sans" font-size="11.5" font-weight="bold" fill="#111" text-anchor="middle" textLength="5.50" lengthAdjust="spacingAndGlyphs">5</text>
<text x="395.70" y="304.70" font-family="Liberation Sans" font-size="11.5" font-weight="bold" fill="#111" text-anchor="middle" textLength="5.50" lengthAdjust="spacingAndGlyphs">6</text>
<text x="382.30" y="420.50" font-family="Liberation Sans" font-size="10" font-weight="bold" fill="#222" text-anchor="middle" textLength="28.40" lengthAdjust="spacingAndGlyphs" transform="rotate(-90 382.30 420.50)">Ratio</text>
<text x="384.70" y="291.40" font-family="Liberation Sans" font-size="11" font-weight="bold" fill="#111" text-anchor="start" textLength="15.40" lengthAdjust="spacingAndGlyphs">(D)</text>
<rect x="435.40" y="379.20" width="32.85" height="162.10" fill="#4F81BD"/>
<rect x="468.25" y="361.90" width="32.85" height="179.40" fill="#C0504D"/>
<rect x="501.10" y="353.00" width="32.85" height="188.30" fill="#9BBB59"/>
<rect x="584.40" y="444.10" width="32.85" height="97.20" fill="#4F81BD"/>
<rect x="617.25" y="437.70" width="32.85" height="103.60" fill="#C0504D"/>
<rect x="650.10" y="433.90" width="32.85" height="107.40" fill="#9BBB59"/>
<line x1="451.82" y1="379.20" x2="451.82" y2="376.60" stroke="#111" stroke-width="1.7"/>
<line x1="448.32" y1="376.60" x2="455.32" y2="376.60" stroke="#111" stroke-width="1.6"/>
<line x1="484.68" y1="361.90" x2="484.68" y2="355.50" stroke="#111" stroke-width="1.7"/>
<line x1="481.18" y1="355.50" x2="488.18" y2="355.50" stroke="#111" stroke-width="1.6"/>
<line x1="517.52" y1="353.00" x2="517.52" y2="347.40" stroke="#111" stroke-width="1.7"/>
<line x1="514.02" y1="347.40" x2="521.02" y2="347.40" stroke="#111" stroke-width="1.6"/>
<line x1="600.82" y1="444.10" x2="600.82" y2="442.30" stroke="#111" stroke-width="1.7"/>
<line x1="597.32" y1="442.30" x2="604.32" y2="442.30" stroke="#111" stroke-width="1.6"/>
<line x1="633.67" y1="437.70" x2="633.67" y2="433.40" stroke="#111" stroke-width="1.7"/>
<line x1="630.17" y1="433.40" x2="637.17" y2="433.40" stroke="#111" stroke-width="1.6"/>
<line x1="666.52" y1="433.90" x2="666.52" y2="429.30" stroke="#111" stroke-width="1.7"/>
<line x1="663.02" y1="429.30" x2="670.02" y2="429.30" stroke="#111" stroke-width="1.6"/>
<line x1="438.30" y1="332.10" x2="524.00" y2="332.10" stroke="#8AAEE0" stroke-width="1.3"/>
<circle cx="477.70" cy="323.80" r="1.45" fill="#111"/>
<circle cx="482.80" cy="323.80" r="1.45" fill="#111"/>
<circle cx="487.90" cy="323.80" r="1.45" fill="#111"/>
<line x1="438.30" y1="347.60" x2="481.50" y2="347.60" stroke="#8AAEE0" stroke-width="1.3"/>
<circle cx="463.70" cy="340.50" r="1.45" fill="#111"/>
<line x1="595.10" y1="419.30" x2="666.30" y2="419.30" stroke="#8AAEE0" stroke-width="1.3"/>
<circle cx="632.70" cy="412.20" r="1.45" fill="#111"/>
<rect x="500.60" y="298.60" width="6.20" height="7.60" fill="#4F81BD"/>
<text x="510.50" y="308.20" font-family="Liberation Sans" font-size="13.5" font-weight="normal" fill="#333" text-anchor="start" textLength="42.70" lengthAdjust="spacingAndGlyphs" stroke="#333" stroke-width="0.3">Group 1</text>
<rect x="564.10" y="298.60" width="6.20" height="7.60" fill="#C0504D"/>
<text x="574.30" y="308.20" font-family="Liberation Sans" font-size="13.5" font-weight="normal" fill="#333" text-anchor="start" textLength="42.90" lengthAdjust="spacingAndGlyphs" stroke="#333" stroke-width="0.3">Group 2</text>
<rect x="628.70" y="298.60" width="6.20" height="7.60" fill="#9BBB59"/>
<text x="638.80" y="308.20" font-family="Liberation Sans" font-size="13.5" font-weight="normal" fill="#333" text-anchor="start" textLength="43.50" lengthAdjust="spacingAndGlyphs" stroke="#333" stroke-width="0.3">Group 3</text>
<text x="484.60" y="567.30" font-family="Liberation Sans" font-size="12" font-weight="bold" fill="#111" text-anchor="middle" textLength="45.80" lengthAdjust="spacingAndGlyphs">Chol/HDL</text>
<text x="633.60" y="567.30" font-family="Liberation Sans" font-size="12" font-weight="bold" fill="#111" text-anchor="middle" textLength="41.40" lengthAdjust="spacingAndGlyphs">LDL/HDL</text>
</svg></body></html>
